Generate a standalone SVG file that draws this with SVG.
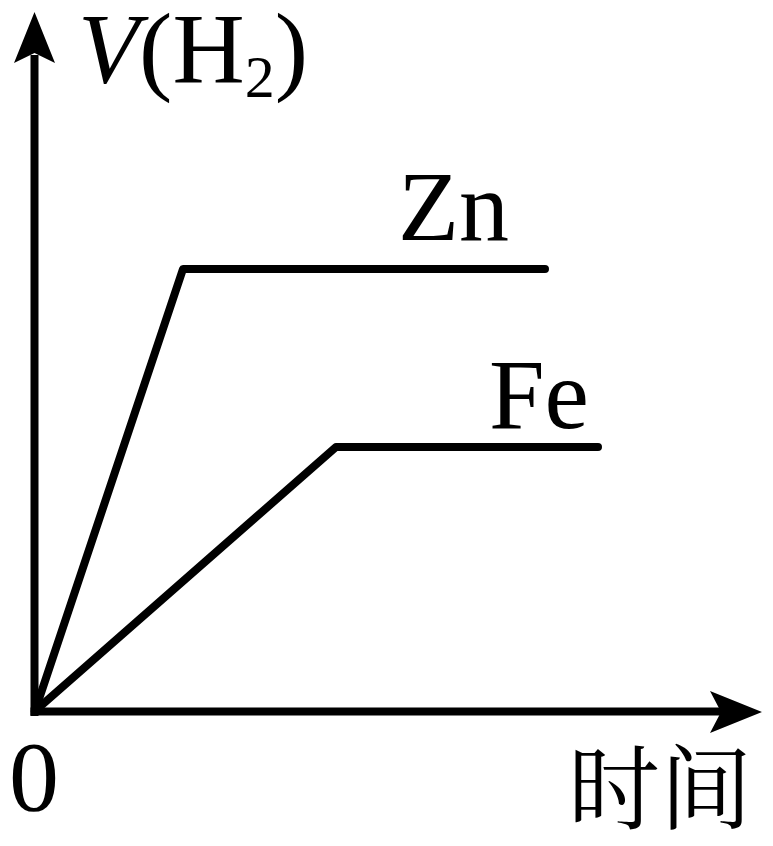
<svg xmlns="http://www.w3.org/2000/svg" width="773" height="846" viewBox="0 0 773 846">
<style>
.ln{fill:none;stroke:#000;stroke-width:8;stroke-linejoin:round;stroke-linecap:round}
.ax{fill:none;stroke:#000;stroke-width:8;stroke-linecap:butt}
.head{fill:#000}
.t{font-family:"Liberation Serif","Times New Roman",serif;font-size:100px;fill:#000}
.cjk{font-family:"Noto Serif CJK SC","Noto Sans CJK SC",serif;font-size:92px;fill:#000}
</style>
<rect width="773" height="846" fill="#fff"/>
<g id="axes">
<path class="ax" d="M34.5,716 V55"/>
<path class="ax" d="M30.5,711.5 H722"/>
<polygon class="head" points="34.5,12 55,63 34.5,53 14,63"/>
<polygon class="head" points="762,712 710,691 721,712 710,733"/>
</g>
<g id="connectors">
<polyline id="zn-curve" class="ln" points="35,711 183,269 545,269"/>
<polyline id="fe-curve" class="ln" points="35,711 336,447 598,447"/>
</g>
<g id="labels">
<text id="y-label" class="t" x="78" y="82"><tspan font-style="italic">V</tspan>(H<tspan font-size="60" dy="15">2</tspan><tspan dy="-15">)</tspan></text>
<text id="zn-label" class="t" x="398" y="240">Zn</text>
<text id="fe-label" class="t" x="489" y="428">Fe</text>
<text id="origin-label" class="t" x="34" y="810" text-anchor="middle">0</text>
<text id="x-label" class="cjk" x="568" y="822">时间</text>
</g>
</svg>
